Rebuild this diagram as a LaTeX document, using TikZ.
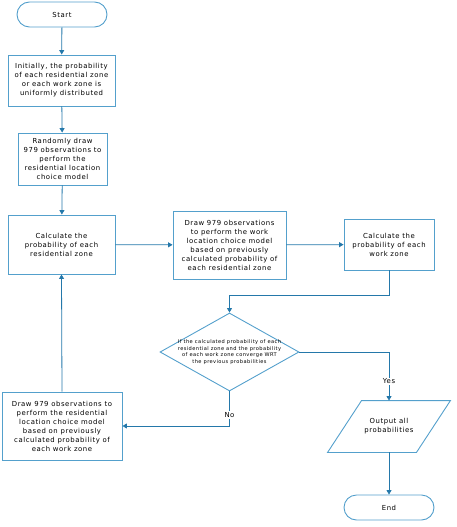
\documentclass[tikz,border=0pt]{standalone}
\usepackage{fontspec}
\setmainfont{DejaVu Sans}[LetterSpace=8]
\usetikzlibrary{shapes,arrows.meta,positioning,calc}
\definecolor{boxblue}{RGB}{84,160,204}
\definecolor{lineblue}{RGB}{36,120,170}

\begin{document}
\begin{tikzpicture}[x=1pt, y=-1pt,
    base/.style={draw=boxblue, line width=0.9pt, align=center, inner sep=1pt,
        font=\fontsize{6.9}{9}\selectfont},
    term/.style={base, rectangle, rounded corners=12.5pt, minimum width=90pt, minimum height=25pt},
    proc/.style={base, rectangle},
    decision/.style={base, diamond, minimum width=139pt, minimum height=78pt, inner sep=0pt},
    dtext/.style={draw=none, align=center, inner sep=0pt, font=\fontsize{5.1}{6.7}\selectfont},
    io/.style={base, draw=none, rectangle, minimum width=88pt, minimum height=51pt},
    slanted/.style={draw=boxblue, line width=0.9pt, line join=miter},
    lbl/.style={fill=white, inner sep=1pt, font=\fontsize{6.9}{9}\selectfont},
    arr/.style={draw=lineblue, line width=0.8pt, -{Triangle[length=4.5pt,width=5pt]}}]

    \useasboundingbox (0,0) rectangle (456,527);

    % main column
    \node[term] (start) at (62,14.5) {Start};
    \node[proc, minimum width=107pt, minimum height=51pt] (init) at (61.5,80.5)
        {Initially, the probability\\of each residential zone\\or each work zone is\\uniformly distributed};
    \node[proc, minimum width=89pt, minimum height=52pt] (drawres) at (62.5,159)
        {Randomly draw\\979 observations to\\perform the\\residential location\\choice model};
    \node[proc, minimum width=107pt, minimum height=59pt] (calcres) at (61.5,244.5)
        {Calculate the\\probability of each\\residential zone};
    \node[proc, minimum width=113pt, minimum height=68pt] (drawwork) at (229.5,245)
        {Draw 979 observations\\to perform the work\\location choice model\\based on previously\\calculated probability of\\each residential zone};
    \node[proc, minimum width=90pt, minimum height=51pt] (calcwork) at (389,244.5)
        {Calculate the\\probability of each\\work zone};

    % check and outputs
    \node[decision, label={[dtext]center:{If the calculated probability of each\\residential zone and the probability\\of each work zone converge WRT\\the previous probabilities}}] (conv) at (229.5,352) {};
    \node[io] (output) at (389,426.5) {Output all\\probabilities};
    \draw[slanted] ($(output.north west)+(17,0)$) -- ($(output.north east)+(17,0)$)
        -- ($(output.south east)+(-17,0)$) -- ($(output.south west)+(-17,0)$) -- cycle;
    \node[term] (end) at (389,507.5) {End};
    \node[proc, minimum width=120pt, minimum height=68pt] (redraw) at (62,426)
        {Draw 979 observations to\\perform the residential\\location choice model\\based on previously\\calculated probability of\\each work zone};

    % connectors
    \draw[arr] (start) -- (init);
    \draw[arr] (init) -- (drawres);
    \draw[arr] (drawres) -- (calcres);
    \draw[arr] (calcres) -- (drawwork);
    \draw[arr] (drawwork) -- (calcwork);
    \draw[arr] (calcwork.south) -- ++(0,25) -| (conv.north);
    \draw[arr] (conv.east) -| node[lbl, pos=0.8] {Yes} (output.north);
    \draw[arr] (conv.south) |- node[lbl, pos=0.34] {No} (redraw.east);
    \draw[arr] (output.south) -- (end.north);
    \draw[arr] (redraw.north) -- (calcres.south);
\end{tikzpicture}
\end{document}
